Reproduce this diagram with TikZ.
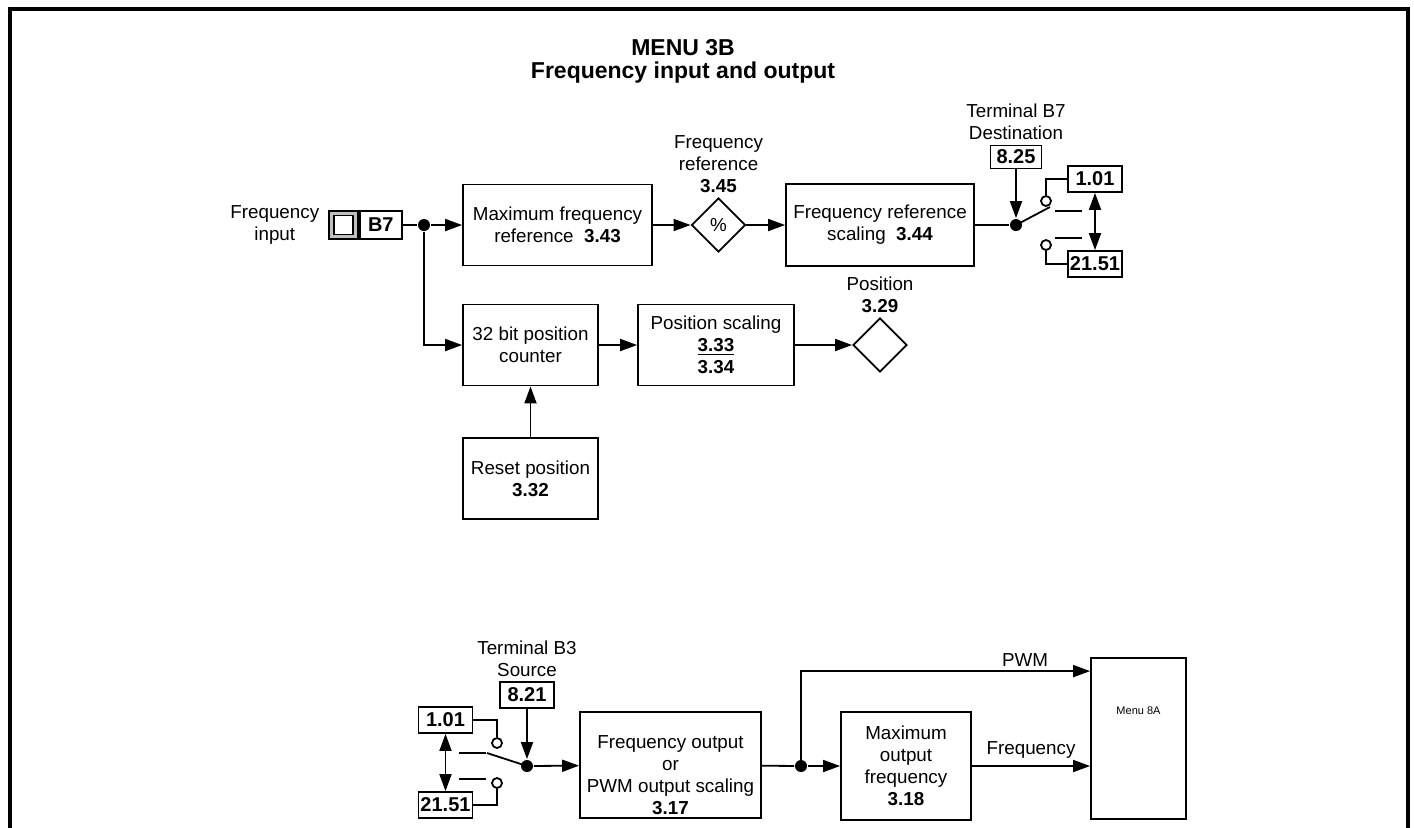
\documentclass[tikz,border=0pt]{standalone}
\usepackage{fontspec}
\setmainfont{Liberation Sans}
\usetikzlibrary{shapes,arrows.meta,positioning}
\tikzstyle{block} = [rectangle, draw, align=center, inner sep=0pt]
\tikzstyle{param} = [rectangle, draw, font=\bfseries, minimum width=27pt, minimum height=13pt, inner sep=0pt]
\tikzstyle{test} = [diamond, draw, inner sep=0pt, minimum width=27pt, minimum height=27pt]
\tikzstyle{junction} = [circle, fill, inner sep=0pt, minimum size=6pt]
\tikzstyle{contact} = [circle, draw, fill=white, inner sep=0pt, minimum size=5pt]
\tikzstyle{caption} = [align=center, inner sep=2pt]
\tikzstyle{line} = [draw, -{Triangle[length=8.5pt,width=6pt]}]
\tikzstyle{dline} = [draw, {Triangle[length=8.5pt,width=6pt]}-{Triangle[length=8.5pt,width=6pt]}]

\begin{document}
\begin{tikzpicture}[x=0.5pt, y=-0.5pt, line width=0.9pt, font=\fontsize{9.4}{11}\selectfont]
    \useasboundingbox (0,0) rectangle (1414,827);
    \draw[line width=1.6pt] (10,850) -- (10,9) -- (1408,9) -- (1408,850);
    \node[caption, font=\fontsize{11.5}{11.5}\selectfont\bfseries] (title) at (683,61) {MENU 3B\\Frequency input and output};

    % frequency input
    \node[rectangle, draw, fill=black!25, minimum width=14.5pt, minimum height=14pt, inner sep=0pt] (term) at (343.5,225) {};
    \node[rectangle, draw, fill=white, minimum size=9.5pt, inner sep=0pt] (termin) at (term.center) {};
    \node[param, right=0pt of term, minimum width=21pt, minimum height=14pt] (b7) {B7};
    \node[caption, left=2pt of term] (inlbl) {Frequency\\input};
    \node[junction] (j1) at (424,225) {};
    \node[block, minimum width=94.5pt, minimum height=40.5pt] (maxref) at (557.5,225) {Maximum frequency\\reference\ \ \textbf{3.43}};
    \node[test] (pct) at (718.5,225) {\%};
    \node[caption, above=0pt of pct] (pctlbl) {Frequency\\reference\\\textbf{3.45}};
    \node[block, minimum width=94pt, minimum height=41pt] (refscale) at (880,225) {Frequency reference\\scaling\ \ \textbf{3.44}};

    % destination switch
    \node[junction] (j2) at (1016,225) {};
    \node[param, minimum width=25.5pt, minimum height=11.5pt] (p825) at (1016,157) {8.25};
    \node[caption, above=0pt of p825] (p825lbl) {Terminal B7\\Destination};
    \node[param] (p101) at (1095,179) {1.01};
    \node[param] (p2151) at (1095,264) {21.51};
    \node[contact] (cu) at (1046,201) {};
    \node[contact] (cl) at (1046,245) {};
    \coordinate (blade) at (1050,207);

    % position counter
    \node[block, minimum width=67.5pt, minimum height=40.5pt] (counter) at (530.5,345) {32 bit position\\counter};
    \node[block, minimum width=78pt, minimum height=40.5pt] (posscale) at (716,345) {Position scaling\\\underline{\textbf{3.33}}\\\textbf{3.34}};
    \node[test] (posd) at (880,345) {};
    \node[caption, above=0pt of posd] (posdlbl) {Position\\\textbf{3.29}};
    \node[block, minimum width=67.5pt, minimum height=40.5pt] (reset) at (530.5,478.5) {Reset position\\\textbf{3.32}};

    \draw (b7) -- (j1);
    \path [line] (j1) -- (maxref);
    \path [line] (j1) |- (counter);
    \path [line] (maxref) -- (pct);
    \path [line] (pct) -- (refscale);
    \draw (refscale) -- (j2);
    \path [line] (p825) -- (j2);
    \draw (j2.center) -- (blade);
    \draw (cu) |- (p101);
    \draw (cl) |- (p2151);
    \path [dline] (p101) -- (p2151);
    \draw (1055,211) -- (1082,211);
    \draw (1055,238) -- (1082,238);
    \path [line] (counter) -- (posscale);
    \path [line] (posscale) -- (posd);
    \path [line] (reset) -- (counter);

    % frequency output
    \node[param] (q101) at (445.5,720) {1.01};
    \node[param] (q2151) at (445.5,805) {21.51};
    \node[param] (p821) at (527,695) {8.21};
    \node[caption, above=0pt of p821] (p821lbl) {Terminal B3\\Source};
    \node[junction] (j3) at (527,766) {};
    \node[contact] (du) at (497,743) {};
    \node[contact] (dl) at (497,783) {};
    \coordinate (blade2) at (487,753);
    \node[block, minimum width=90.5pt, minimum height=53pt] (fout) at (670.5,765) {};
    \node[caption] (foutlbl) at (670.5,775) {Frequency output\\or\\PWM output scaling\\\textbf{3.17}};
    \node[junction] (j4) at (801,766) {};
    \node[block, minimum width=65pt, minimum height=54pt] (maxout) at (906,766) {Maximum\\output\\frequency\\\textbf{3.18}};
    \node[block, minimum width=47.5pt, minimum height=80.5pt] (menu8a) at (1138.5,738.5) {};
    \node[font=\fontsize{5.5}{6}\selectfont] (menulbl) at (1138.5,711) {Menu 8A};
    \node (pwmlbl) at (1025,660) {PWM};

    \path [line] (p821) -- (j3);
    \draw (j3.center) -- (blade2);
    \draw (du) |- (q101);
    \draw (dl) |- (q2151);
    \path [dline] (q101) -- (q2151);
    \draw (459,753) -- (486,753);
    \draw (459,779) -- (486,779);
    \path [line] (j3) -- (fout);
    \draw (fout) -- (j4);
    \path [line] (j4) -- (maxout);
    \path [line] (j4.center) |- ([yshift=-7pt]menu8a.north west);
    \path [line] (maxout) -- node[above] (freqlbl) {Frequency} (maxout -| menu8a.west);
\end{tikzpicture}
\end{document}
